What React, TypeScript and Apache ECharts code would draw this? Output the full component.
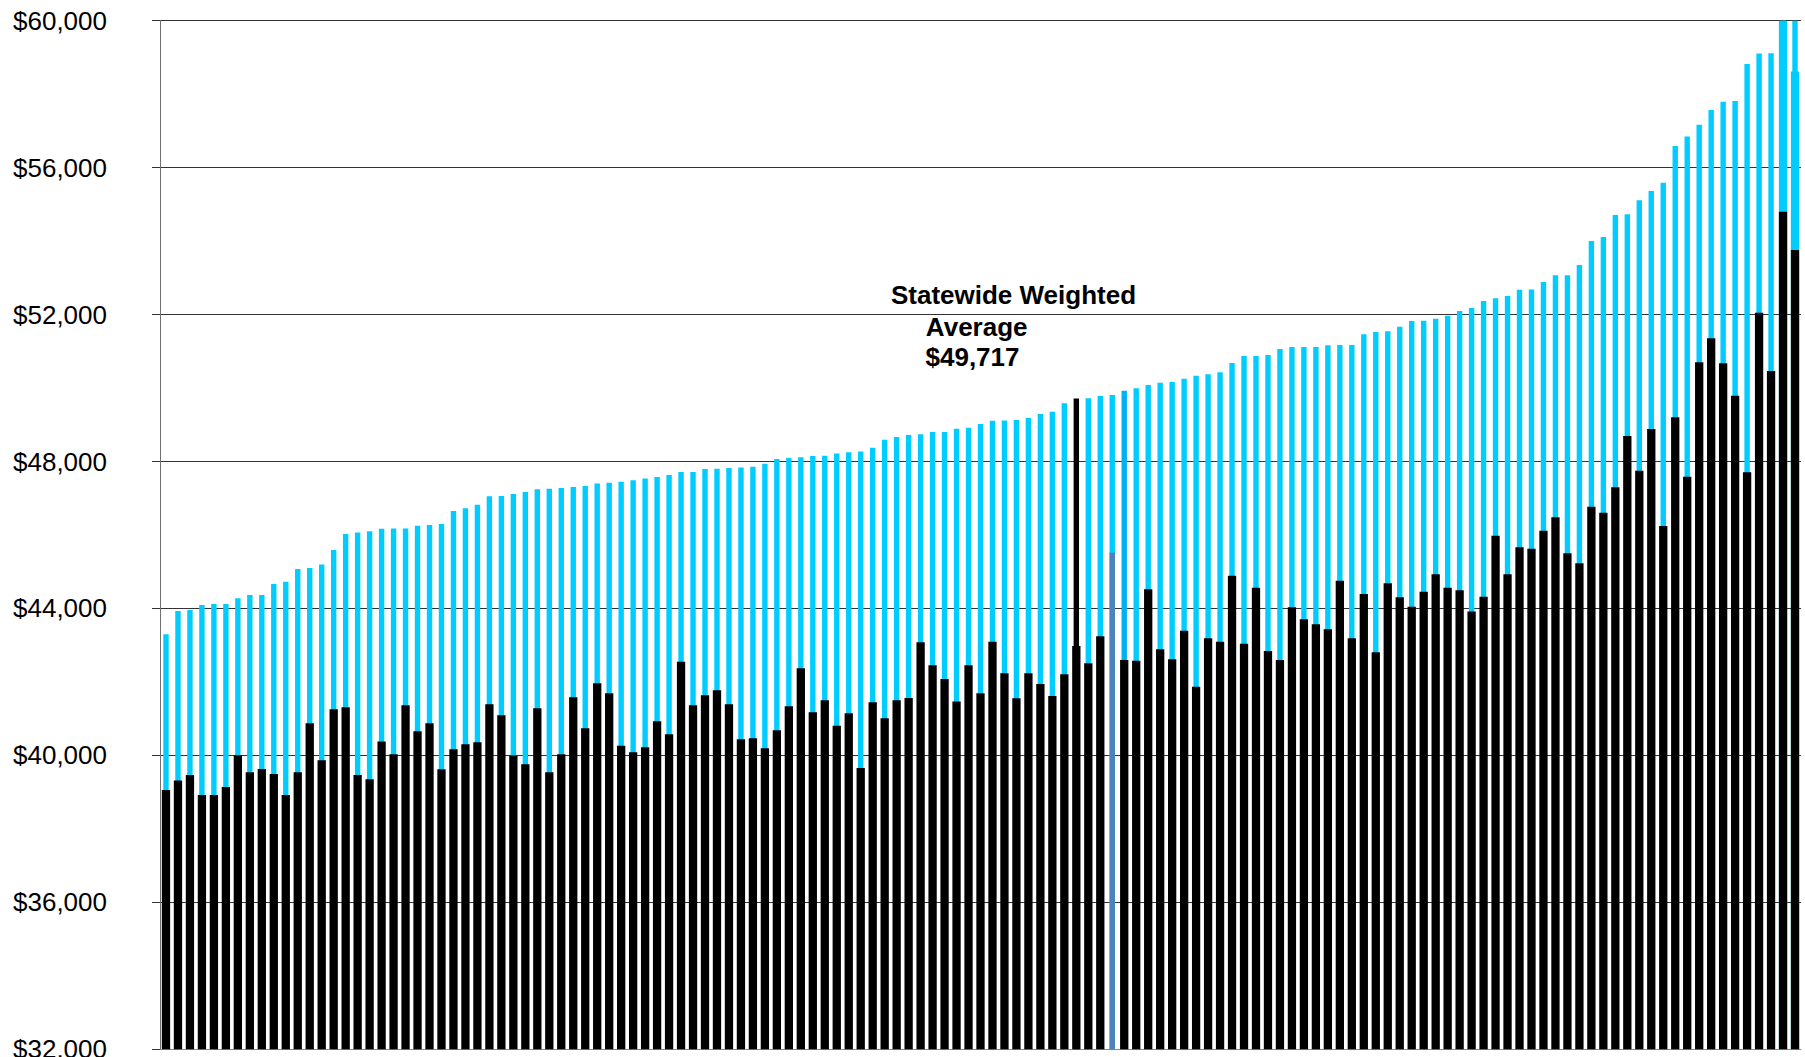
import React, { useEffect, useRef } from "react";
import * as echarts from "echarts";

// Districts sorted by the upper (cyan) value; 137 categories, no visible labels
const categories: string[] = Array.from({ length: 137 }, (_, i) => `District ${i + 1}`);

// Upper value (narrow cyan bars)
const upperValues: number[] = [
  43300, 43930, 43960, 44095, 44120, 44120, 44280, 44370, 44370, 44665,
  44730, 45075, 45100, 45200, 45590, 46025, 46070, 46100, 46170, 46180,
  46180, 46250, 46270, 46300, 46655, 46725, 46825, 47055, 47060, 47115,
  47170, 47245, 47260, 47280, 47305, 47335, 47405, 47425, 47450, 47490,
  47535, 47580, 47635, 47715, 47715, 47795, 47805, 47825, 47840, 47860,
  47940, 48070, 48095, 48115, 48150, 48155, 48220, 48250, 48270, 48375,
  48590, 48670, 48720, 48740, 48805, 48805, 48895, 48920, 49020, 49110,
  49115, 49130, 49185, 49295, 49355, 49585, 49717, 49725, 49785, 49810,
  49930, 49995, 50085, 50145, 50165, 50255, 50335, 50375, 50430, 50680,
  50870, 50875, 50900, 51065, 51115, 51120, 51120, 51165, 51170, 51175,
  51465, 51525, 51545, 51670, 51825, 51830, 51885, 51970, 52095, 52180,
  52370, 52445, 52505, 52675, 52680, 52885, 53070, 53070, 53350, 54005,
  54110, 54710, 54730, 55110, 55365, 55590, 56590, 56845, 57170, 57570,
  57795, 57815, 58820, 59110, 59115, 60000, 60000,
];

// Lower value (wide black bars); null where no black bar is drawn
const lowerValues: (number | null)[] = [
  39060, 39320, 39465, 38920, 38920, 39140, 40005, 39540, 39630, 39495,
  38920, 39540, 40875, 39865, 41255, 41310, 39465, 39350, 40380, 40030,
  41365, 40655, 40875, 39620, 40165, 40305, 40355, 41390, 41090, 39995,
  39760, 41285, 39540, 40030, 41585, 40740, 41965, 41690, 40265, 40085,
  40220, 40930, 40575, 42550, 41365, 41635, 41775, 41390, 40440, 40465,
  40195, 40685, 41340, 42370, 41175, 41505, 40810, 41145, 39660, 41445,
  41010, 41505, 41560, 43080, 42455, 42080, 41465, 42455, 41690, 43095,
  42235, 41555, 42235, 41945, 41620, 42210, 42980, 42510, 43245, null,
  42600, 42580, 44520, 42890, 42615, 43395, 41870, 43190, 43095, 44890,
  43040, 44565, 42840, 42595, 44030, 43705, 43570, 43435, 44755, 43190,
  44395, 42805, 44685, 44305, 44050, 44455, 44930, 44565, 44495, 43920,
  44320, 45980, 44930, 45665, 45625, 46115, 46480, 45500, 45230, 46770,
  46605, 47300, 48695, 47750, 48885, 46245, 49205, 47585, 50700, 51355,
  50675, 49790, 47705, 52050, 50465, 54800, 53760,
];

// Special marks
const statewideIndex = 76; // Statewide weighted average bar
const statewideValue = 49717;
const highlightIndex = 80; // slightly darker cyan bar
const blueIndex = 79; // blue-gray lower bar
const blueValue = 45520;
const wideCyanIndices = [135, 136];
const wideCyanValues = [60000, 58615];

const yTicks = { min: 32000, max: 60000, interval: 4000 };

const CYAN = "#00CCFF";
const CYAN_DARK = "#00B0F0";
const BLUE_GRAY = "#4F81BD";

export default function App() {
  const ref = useRef<HTMLDivElement>(null);

  useEffect(() => {
    if (!ref.current) return;
    const chart = echarts.init(ref.current, undefined, { renderer: "svg" });

    const upperData = upperValues.map((v, i) => {
      if (i === statewideIndex) return { value: statewideValue, itemStyle: { color: "#000000" } };
      if (i === highlightIndex) return { value: v, itemStyle: { color: CYAN_DARK } };
      return v;
    });
    const blueData = categories.map((_, i) => (i === blueIndex ? blueValue : "-"));
    const wideCyanData = categories.map((_, i) => {
      const k = wideCyanIndices.indexOf(i);
      return k >= 0 ? wideCyanValues[k] : "-";
    });
    const lowerData = lowerValues.map((v) => (v === null ? "-" : v));

    const labelFont = '"Liberation Sans", Arial, sans-serif';

    chart.setOption({
      animation: false,
      grid: {
        left: 160,
        right: 4,
        top: 20.7,
        bottom: 7.7,
        containLabel: false,
        outerBoundsMode: "none",
      },
      xAxis: [
        {
          type: "category",
          data: categories,
          boundaryGap: true,
          axisLine: { show: true, lineStyle: { color: "#888888", width: 1 } },
          axisTick: { show: false },
          axisLabel: { show: false },
          splitLine: { show: false },
        },
        {
          type: "category",
          data: categories,
          boundaryGap: true,
          show: false,
        },
      ],
      yAxis: {
        type: "value",
        min: yTicks.min,
        max: yTicks.max,
        interval: yTicks.interval,
        axisLine: { show: true, lineStyle: { color: "#707070", width: 1 } },
        axisTick: { show: true, length: 8, lineStyle: { color: "#333333", width: 1 } },
        axisLabel: {
          margin: 53,
          fontSize: 26,
          fontFamily: labelFont,
          color: "#000000",
          formatter: (v: number) => "$" + v.toLocaleString("en-US"),
        },
        splitLine: { show: true, lineStyle: { color: "#333333", width: 1 } },
      },
      series: [
        {
          name: "Upper",
          type: "bar",
          xAxisIndex: 0,
          barWidth: 5.4,
          barGap: "-100%",
          itemStyle: { color: CYAN },
          data: upperData,
        },
        {
          name: "Lower highlight",
          type: "bar",
          xAxisIndex: 0,
          barWidth: 5.4,
          barGap: "-100%",
          itemStyle: { color: BLUE_GRAY },
          data: blueData,
        },
        {
          name: "Upper wide",
          type: "bar",
          xAxisIndex: 1,
          barWidth: 8.3,
          barGap: "-100%",
          itemStyle: { color: CYAN },
          data: wideCyanData,
        },
        {
          name: "Lower",
          type: "bar",
          xAxisIndex: 1,
          barWidth: 8.3,
          barGap: "-100%",
          itemStyle: { color: "#000000" },
          data: lowerData,
        },
      ],
      graphic: [
        {
          type: "text",
          x: 1013.5,
          y: 295,
          style: {
            text: "Statewide Weighted",
            font: `bold 26px ${labelFont}`,
            fill: "#000000",
            align: "center",
            verticalAlign: "middle",
          },
        },
        {
          type: "text",
          x: 976.7,
          y: 326.7,
          style: {
            text: "Average",
            font: `bold 26px ${labelFont}`,
            fill: "#000000",
            align: "center",
            verticalAlign: "middle",
          },
        },
        {
          type: "text",
          x: 972.5,
          y: 356.7,
          style: {
            text: "$49,717",
            font: `bold 26px ${labelFont}`,
            fill: "#000000",
            align: "center",
            verticalAlign: "middle",
          },
        },
      ],
    });

    return () => chart.dispose();
  }, []);

  return (
    <div
      ref={ref}
      style={{ position: "fixed", left: 0, top: 0, width: 1805, height: 1057, background: "#ffffff" }}
    />
  );
}
